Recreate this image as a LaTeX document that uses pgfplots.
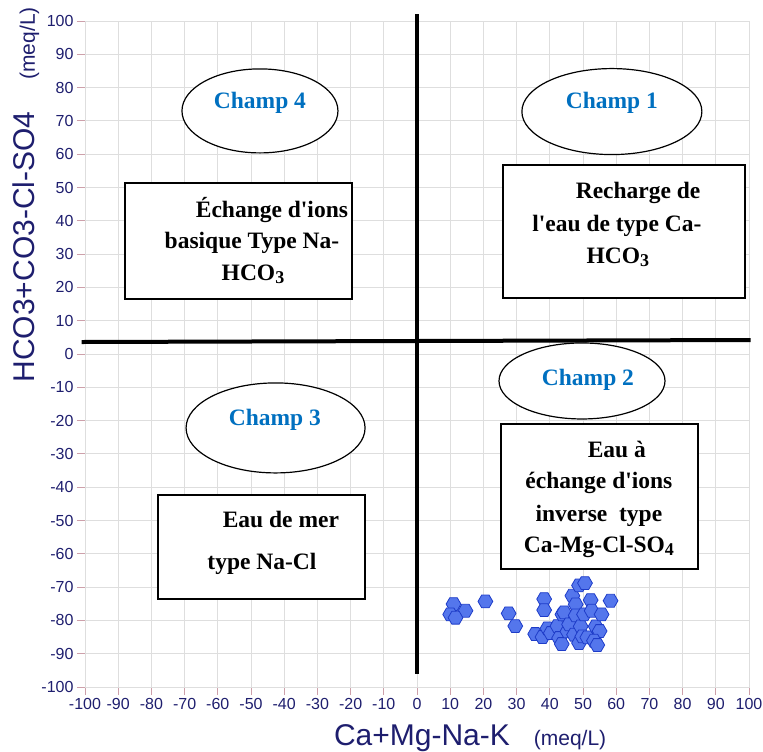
\documentclass[border=0pt]{standalone}
\usepackage{pgfplots}
\pgfplotsset{compat=1.18}
\usepackage{fontspec}
\setmainfont{Liberation Sans}
\newfontfamily\tnr{Liberation Serif}

\definecolor{navy}{RGB}{30,30,110}
\definecolor{champ}{RGB}{0,112,192}
\definecolor{tickred}{RGB}{205,160,170}
\definecolor{gridgray}{RGB}{222,222,222}
\definecolor{hexfill}{RGB}{84,118,236}
\definecolor{hexedge}{RGB}{30,60,200}

% flat-topped hexagon marker
\pgfdeclareplotmark{hexagon}{%
  \pgfpathmoveto{\pgfqpointpolar{0}{\pgfplotmarksize}}%
  \pgfpathlineto{\pgfqpointpolar{60}{\pgfplotmarksize}}%
  \pgfpathlineto{\pgfqpointpolar{120}{\pgfplotmarksize}}%
  \pgfpathlineto{\pgfqpointpolar{180}{\pgfplotmarksize}}%
  \pgfpathlineto{\pgfqpointpolar{240}{\pgfplotmarksize}}%
  \pgfpathlineto{\pgfqpointpolar{300}{\pgfplotmarksize}}%
  \pgfpathclose
  \pgfusepathqfillstroke}

\newcommand{\sub}[1]{\raisebox{-0.3ex}{\fontsize{18}{18}\selectfont #1}}
\tikzset{boxtxt/.style={anchor=base, font=\tnr\bfseries\fontsize{23.5}{23.5}\selectfont},
         champ/.style={anchor=base, text=champ, font=\tnr\bfseries\fontsize{23.5}{23.5}\selectfont}}

\begin{document}
\begin{tikzpicture}
\begin{axis}[
  at={(0,0)}, anchor=south west,
  scale only axis, width=664pt, height=666pt,
  xmin=-100, xmax=100, ymin=-100, ymax=100,
  xtick={-100,-90,...,100}, ytick={-100,-90,...,100},
  xtick pos=bottom, ytick pos=left,
  grid=major, grid style={gridgray, line width=0.8pt},
  axis line style={gridgray, line width=0.8pt},
  tick align=outside, major tick length=8pt,
  tick style={tickred, line width=0.8pt},
  tick label style={font=\fontsize{16}{16}\selectfont, text=navy},
  /pgf/number format/assume math mode=true,
  xlabel={Ca+Mg-Na-K\hspace{24pt}{\fontsize{21}{21}\selectfont (meq/L)}},
  ylabel={HCO3+CO3-Cl-SO4\hspace{32pt}{\fontsize{21}{21}\selectfont (meq/L)}},
  xlabel style={at={(axis description cs:0.58,-0.0871)}, anchor=base, text=navy, font=\fontsize{30}{30}\selectfont},
  ylabel style={at={(axis description cs:-0.0753,0.739)}, anchor=base, text=navy, font=\fontsize{30}{30}\selectfont},
  clip=false,
]
\addplot[only marks, mark=hexagon, mark size=7.4pt,
  mark options={fill=hexfill, draw=hexedge, line width=0.8pt}] coordinates {
  (11,-75.1) (10,-78.2) (14.6,-77.1) (11.6,-79.2) (20.6,-74.3)
  (27.6,-77.9) (29.6,-81.7) (38.3,-73.6) (38.3,-76.9) (35.6,-84.1)
  (37.8,-85) (39.3,-82.4) (40.3,-83.8) (42.3,-81.7) (42.8,-85.3)
  (43.6,-87.1) (43.8,-78.2) (44.3,-77.6) (45.3,-83.3) (45.8,-81.2)
  (46.8,-72.6) (47.3,-84.3) (47.8,-75.2) (47.8,-78.5) (48.8,-69.5)
  (50.6,-68.8) (49.3,-81.8) (48.8,-86.8) (49.8,-84.8) (50.3,-78.2)
  (51.3,-85.1) (52.3,-73.9) (52.6,-77.1) (53.8,-81.8) (55,-83.2)
  (53.3,-86.1) (54.3,-87.4) (55.6,-78.2) (58.3,-74.1)
};

% quadrant dividers
\draw[line width=4pt] (axis cs:0,102) -- (axis cs:0,-96);
\draw[line width=4pt] (axis cs:-101,3.6) -- (axis cs:100.5,4.2);

% ellipses
\draw[line width=1.2pt, fill=white] (axis cs:-47.3,73.0) ellipse [x radius=78pt, y radius=42pt];
\draw[line width=1.2pt, fill=white] (axis cs:58.7,72.8) ellipse [x radius=90pt, y radius=43pt];
\draw[line width=1.2pt, fill=white] (axis cs:49.7,-8.1) ellipse [x radius=83pt, y radius=38pt];
\draw[line width=1.2pt, fill=white] (axis cs:-42.6,-22.2) ellipse [x radius=89.5pt, y radius=45pt];
\node[champ] at (axis cs:-47.3,73.6) {Champ 4};
\node[champ] at (axis cs:58.7,73.6) {Champ 1};
\node[champ] at (axis cs:51.5,-9.6) {Champ 2};
\node[champ] at (axis cs:-42.8,-21.6) {Champ 3};

% boxes
\draw[line width=1.5pt, fill=white] (axis cs:-88.0,51.4) rectangle (axis cs:-19.6,16.5);
\node[boxtxt] at (axis cs:-43.7,41.1) {Échange d'ions};
\node[boxtxt] at (axis cs:-49.7,31.8) {basique Type Na-};
\node[boxtxt] at (axis cs:-49.4,22.2) {HCO\sub{3}};

\draw[line width=1.5pt, fill=white] (axis cs:25.9,56.8) rectangle (axis cs:98.8,16.8);
\node[boxtxt] at (axis cs:66.6,46.8) {Recharge de};
\node[boxtxt] at (axis cs:60.2,36.9) {l'eau de type Ca-};
\node[boxtxt] at (axis cs:60.5,27.3) {HCO\sub{3}};

\draw[line width=1.5pt, fill=white] (axis cs:25.3,-21.0) rectangle (axis cs:84.6,-64.6);
\node[boxtxt] at (axis cs:60.2,-31.2) {Eau à};
\node[boxtxt] at (axis cs:54.8,-40.5) {échange d'ions};
\node[boxtxt] at (axis cs:54.8,-50.2) {inverse\ \ type};
\node[boxtxt] at (axis cs:54.8,-59.5) {Ca-Mg-Cl-SO\sub{4}};

\draw[line width=1.5pt, fill=white] (axis cs:-78.0,-42.3) rectangle (axis cs:-15.7,-73.6);
\node[boxtxt] at (axis cs:-41.0,-52.0) {Eau de mer};
\node[boxtxt] at (axis cs:-46.7,-64.6) {type Na-Cl};
\end{axis}
\pgfresetboundingbox
\path[use as bounding box] (-85pt,-65pt) rectangle (678pt,687pt);
\end{tikzpicture}
\end{document}
